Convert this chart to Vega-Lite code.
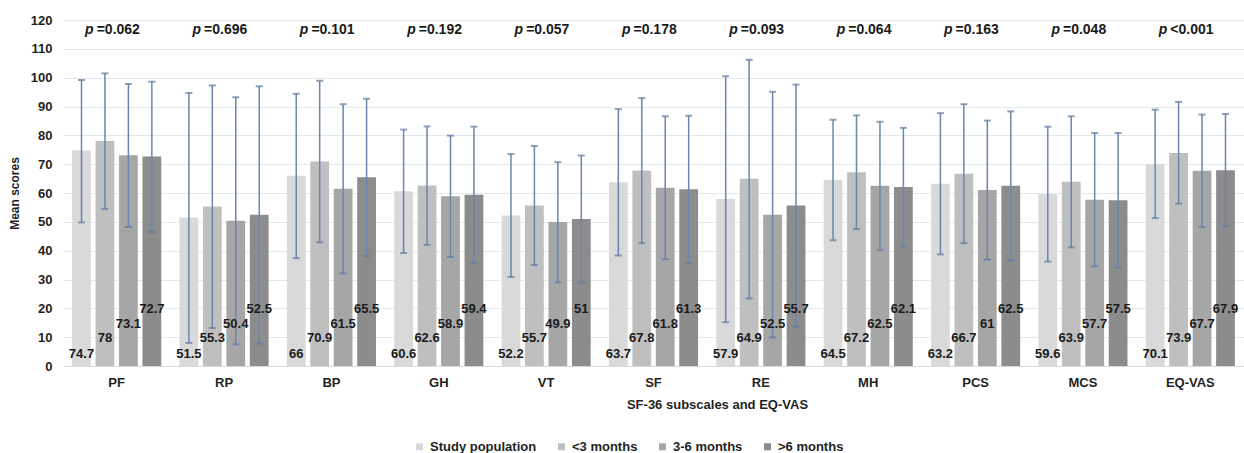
{
  "$schema": "https://vega.github.io/schema/vega-lite/v6.json",
  "width": 1181,
  "height": 346,
  "autosize": {"type": "none"},
  "padding": {"left": 63, "top": 20, "right": 0, "bottom": 87},
  "background": "white",
  "config": {
    "view": {"stroke": null},
    "font": "Liberation Sans",
    "axisY": {
      "tickCount": 12,
      "labelOverlap": false,
      "grid": true,
      "gridColor": "#e3e7ee",
      "gridWidth": 1,
      "domain": false,
      "ticks": false,
      "labelFontSize": 13,
      "labelFontWeight": "bold",
      "labelColor": "#1f1f1f",
      "labelPadding": 11,
      "titleFontSize": 12,
      "titleFontWeight": "bold",
      "titleColor": "#1f1f1f",
      "titlePadding": 9
    }
  },
  "datasets": {
    "scores": [
      {"cat": "PF", "group": "Study population", "mean": 74.7, "lo": 49.8, "hi": 99.2},
      {"cat": "PF", "group": "<3 months", "mean": 78, "lo": 54.5, "hi": 101.5},
      {"cat": "PF", "group": "3-6 months", "mean": 73.1, "lo": 48.2, "hi": 97.8},
      {"cat": "PF", "group": ">6 months", "mean": 72.7, "lo": 46.5, "hi": 98.6},
      {"cat": "RP", "group": "Study population", "mean": 51.5, "lo": 8.0, "hi": 94.7},
      {"cat": "RP", "group": "<3 months", "mean": 55.3, "lo": 13.2, "hi": 97.3},
      {"cat": "RP", "group": "3-6 months", "mean": 50.4, "lo": 7.5, "hi": 93.2},
      {"cat": "RP", "group": ">6 months", "mean": 52.5, "lo": 7.8, "hi": 97.0},
      {"cat": "BP", "group": "Study population", "mean": 66, "lo": 37.4, "hi": 94.4},
      {"cat": "BP", "group": "<3 months", "mean": 70.9, "lo": 42.9, "hi": 98.9},
      {"cat": "BP", "group": "3-6 months", "mean": 61.5, "lo": 32.1, "hi": 90.8},
      {"cat": "BP", "group": ">6 months", "mean": 65.5, "lo": 38.1, "hi": 92.7},
      {"cat": "GH", "group": "Study population", "mean": 60.6, "lo": 39.2, "hi": 82.0},
      {"cat": "GH", "group": "<3 months", "mean": 62.6, "lo": 42.0, "hi": 83.1},
      {"cat": "GH", "group": "3-6 months", "mean": 58.9, "lo": 37.8, "hi": 79.9},
      {"cat": "GH", "group": ">6 months", "mean": 59.4, "lo": 35.7, "hi": 83.0},
      {"cat": "VT", "group": "Study population", "mean": 52.2, "lo": 30.9, "hi": 73.5},
      {"cat": "VT", "group": "<3 months", "mean": 55.7, "lo": 35.0, "hi": 76.3},
      {"cat": "VT", "group": "3-6 months", "mean": 49.9, "lo": 29.0, "hi": 70.7},
      {"cat": "VT", "group": ">6 months", "mean": 51, "lo": 28.9, "hi": 73.0},
      {"cat": "SF", "group": "Study population", "mean": 63.7, "lo": 38.3, "hi": 89.1},
      {"cat": "SF", "group": "<3 months", "mean": 67.8, "lo": 42.6, "hi": 92.9},
      {"cat": "SF", "group": "3-6 months", "mean": 61.8, "lo": 37.0, "hi": 86.6},
      {"cat": "SF", "group": ">6 months", "mean": 61.3, "lo": 35.7, "hi": 86.8},
      {"cat": "RE", "group": "Study population", "mean": 57.9, "lo": 15.2, "hi": 100.5},
      {"cat": "RE", "group": "<3 months", "mean": 64.9, "lo": 23.4, "hi": 106.2},
      {"cat": "RE", "group": "3-6 months", "mean": 52.5, "lo": 9.9, "hi": 95.1},
      {"cat": "RE", "group": ">6 months", "mean": 55.7, "lo": 13.7, "hi": 97.6},
      {"cat": "MH", "group": "Study population", "mean": 64.5, "lo": 43.6, "hi": 85.4},
      {"cat": "MH", "group": "<3 months", "mean": 67.2, "lo": 47.5, "hi": 86.9},
      {"cat": "MH", "group": "3-6 months", "mean": 62.5, "lo": 40.2, "hi": 84.7},
      {"cat": "MH", "group": ">6 months", "mean": 62.1, "lo": 41.5, "hi": 82.6},
      {"cat": "PCS", "group": "Study population", "mean": 63.2, "lo": 38.7, "hi": 87.7},
      {"cat": "PCS", "group": "<3 months", "mean": 66.7, "lo": 42.6, "hi": 90.8},
      {"cat": "PCS", "group": "3-6 months", "mean": 61, "lo": 36.9, "hi": 85.1},
      {"cat": "PCS", "group": ">6 months", "mean": 62.5, "lo": 36.6, "hi": 88.3},
      {"cat": "MCS", "group": "Study population", "mean": 59.6, "lo": 36.2, "hi": 83.0},
      {"cat": "MCS", "group": "<3 months", "mean": 63.9, "lo": 41.1, "hi": 86.6},
      {"cat": "MCS", "group": "3-6 months", "mean": 57.7, "lo": 34.6, "hi": 80.8},
      {"cat": "MCS", "group": ">6 months", "mean": 57.5, "lo": 34.1, "hi": 80.8},
      {"cat": "EQ-VAS", "group": "Study population", "mean": 70.1, "lo": 51.3, "hi": 88.9},
      {"cat": "EQ-VAS", "group": "<3 months", "mean": 73.9, "lo": 56.3, "hi": 91.6},
      {"cat": "EQ-VAS", "group": "3-6 months", "mean": 67.7, "lo": 48.2, "hi": 87.2},
      {"cat": "EQ-VAS", "group": ">6 months", "mean": 67.9, "lo": 48.4, "hi": 87.4}
    ],
    "pvals": [
      {"cat": "PF", "p": "=0.062"},
      {"cat": "RP", "p": "=0.696"},
      {"cat": "BP", "p": "=0.101"},
      {"cat": "GH", "p": "=0.192"},
      {"cat": "VT", "p": "=0.057"},
      {"cat": "SF", "p": "=0.178"},
      {"cat": "RE", "p": "=0.093"},
      {"cat": "MH", "p": "=0.064"},
      {"cat": "PCS", "p": "=0.163"},
      {"cat": "MCS", "p": "=0.048"},
      {"cat": "EQ-VAS", "p": "<0.001"}
    ]
  },
  "data": {"name": "scores"},
  "encoding": {
    "x": {
      "field": "cat",
      "type": "nominal",
      "scale": {
        "domain": ["PF", "RP", "BP", "GH", "VT", "SF", "RE", "MH", "PCS", "MCS", "EQ-VAS"],
        "paddingInner": 0.17,
        "paddingOuter": 0.085
      },
      "axis": {
        "title": "SF-36 subscales and EQ-VAS",
        "labelAngle": 0,
        "labelFontSize": 13,
        "labelFontWeight": "bold",
        "labelColor": "#1f1f1f",
        "labelPadding": 10,
        "ticks": false,
        "domainColor": "#d9d9d9",
        "domainWidth": 1,
        "titleFontSize": 13,
        "titleFontWeight": "bold",
        "titleColor": "#1f1f1f",
        "titlePadding": 9,
        "titleX": 654,
        "titleAlign": "center"
      }
    }
  },
  "layer": [
    {
      "mark": {"type": "bar"},
      "encoding": {
        "xOffset": {
          "field": "group",
          "type": "nominal",
          "scale": {
            "domain": ["Study population", "<3 months", "3-6 months", ">6 months"],
            "paddingInner": 0.2,
            "paddingOuter": 0
          }
        },
        "y": {
          "field": "mean",
          "type": "quantitative",
          "scale": {"domain": [0, 120], "nice": false},
          "axis": {"title": "Mean scores"}
        },
        "color": {
          "field": "group",
          "type": "nominal",
          "scale": {
            "domain": ["Study population", "<3 months", "3-6 months", ">6 months"],
            "range": ["#d9d9d9", "#bfbfbf", "#a6a6a6", "#8c8c8c"]
          },
          "legend": {
            "title": null,
            "orient": "none",
            "direction": "horizontal",
            "legendX": 350,
            "legendY": 420,
            "padding": 0,
            "symbolType": "square",
            "symbolSize": 49,
            "symbolStrokeWidth": 0,
            "labelFontSize": 13,
            "labelFontWeight": "bold",
            "labelColor": "#1f1f1f",
            "labelOffset": 4,
            "columnPadding": 18
          }
        }
      }
    },
    {
      "mark": {"type": "rule", "color": "#6c86ab", "strokeWidth": 1.5},
      "encoding": {
        "xOffset": {"field": "group", "type": "nominal"},
        "y": {"field": "lo", "type": "quantitative", "axis": {"title": "Mean scores"}},
        "y2": {"field": "hi"}
      }
    },
    {
      "mark": {"type": "tick", "color": "#5f7aa1", "size": 7, "thickness": 2, "orient": "horizontal"},
      "encoding": {
        "xOffset": {"field": "group", "type": "nominal"},
        "y": {"field": "lo", "type": "quantitative", "axis": {"title": "Mean scores"}}
      }
    },
    {
      "mark": {"type": "tick", "color": "#5f7aa1", "size": 7, "thickness": 2, "orient": "horizontal"},
      "encoding": {
        "xOffset": {"field": "group", "type": "nominal"},
        "y": {"field": "hi", "type": "quantitative", "axis": {"title": "Mean scores"}}
      }
    },
    {
      "transform": [{"filter": {"field": "group", "equal": "Study population"}}],
      "mark": {"type": "text", "fontSize": 13, "fontWeight": "bold", "color": "#1a1a1a", "baseline": "middle", "align": "center"},
      "encoding": {
        "xOffset": {"field": "group", "type": "nominal"},
        "y": {"datum": 4.2, "type": "quantitative"},
        "text": {"field": "mean", "type": "quantitative"}
      }
    },
    {
      "transform": [{"filter": {"field": "group", "equal": "<3 months"}}],
      "mark": {"type": "text", "fontSize": 13, "fontWeight": "bold", "color": "#1a1a1a", "baseline": "middle", "align": "center"},
      "encoding": {
        "xOffset": {"field": "group", "type": "nominal"},
        "y": {"datum": 9.7, "type": "quantitative"},
        "text": {"field": "mean", "type": "quantitative"}
      }
    },
    {
      "transform": [{"filter": {"field": "group", "equal": "3-6 months"}}],
      "mark": {"type": "text", "fontSize": 13, "fontWeight": "bold", "color": "#1a1a1a", "baseline": "middle", "align": "center"},
      "encoding": {
        "xOffset": {"field": "group", "type": "nominal"},
        "y": {"datum": 14.6, "type": "quantitative"},
        "text": {"field": "mean", "type": "quantitative"}
      }
    },
    {
      "transform": [{"filter": {"field": "group", "equal": ">6 months"}}],
      "mark": {"type": "text", "fontSize": 13, "fontWeight": "bold", "color": "#1a1a1a", "baseline": "middle", "align": "center"},
      "encoding": {
        "xOffset": {"field": "group", "type": "nominal"},
        "y": {"datum": 19.8, "type": "quantitative"},
        "text": {"field": "mean", "type": "quantitative"}
      }
    },
    {
      "data": {"name": "pvals"},
      "mark": {"type": "text", "fontSize": 14, "fontWeight": "bold", "fontStyle": "italic", "color": "#1a1a1a", "baseline": "middle", "align": "right", "dx": -23},
      "encoding": {
        "y": {"datum": 116.5, "type": "quantitative"},
        "text": {"value": "p"}
      }
    },
    {
      "data": {"name": "pvals"},
      "mark": {"type": "text", "fontSize": 14, "fontWeight": "bold", "color": "#1a1a1a", "baseline": "middle", "align": "left", "dx": -20},
      "encoding": {
        "y": {"datum": 116.5, "type": "quantitative"},
        "text": {"field": "p", "type": "nominal"}
      }
    }
  ]
}
